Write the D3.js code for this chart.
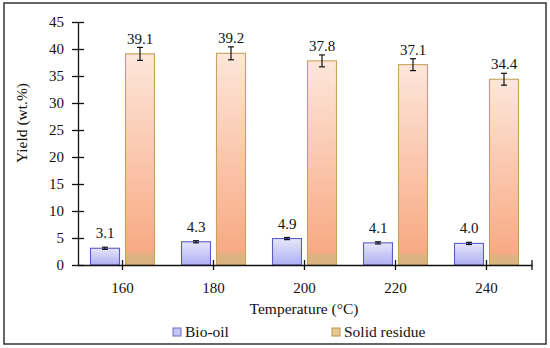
<!DOCTYPE html>
<html>
<head>
<meta charset="utf-8">
<script src="https://cdn.jsdelivr.net/npm/d3@7"></script>
<style>
  body { margin: 0; background: #fff; }
  svg text { font-family: "Liberation Serif", "Times New Roman", serif; fill: #111; }
</style>
</head>
<body>
<div id="chart"></div>
<script>
// chart data
var temperatures = ["160", "180", "200", "220", "240"];
var bioOil = [3.1, 4.3, 4.9, 4.1, 4.0];
var bioOilErr = [0.2, 0.2, 0.2, 0.2, 0.2];
var solidResidue = [39.1, 39.2, 37.8, 37.1, 34.4];
var solidErr = [1.2, 1.2, 1.1, 1.1, 1.1];
var yTicks = [0, 5, 10, 15, 20, 25, 30, 35, 40, 45];
var seriesNames = ["Bio-oil", "Solid residue"];

var width = 550, height = 348;

var svg = d3.select("#chart").append("svg")
    .attr("width", width)
    .attr("height", height);

var defs = svg.append("defs");

var gBio = defs.append("linearGradient")
    .attr("id", "gradBio")
    .attr("x1", 0).attr("y1", 0).attr("x2", 0).attr("y2", 1);
gBio.append("stop").attr("offset", "0%").attr("stop-color", "#e6e6fb");
gBio.append("stop").attr("offset", "100%").attr("stop-color", "#aeb0f2");

var gSolid = defs.append("linearGradient")
    .attr("id", "gradSolid")
    .attr("x1", 0).attr("y1", 0).attr("x2", 0).attr("y2", 1);
gSolid.append("stop").attr("offset", "0%").attr("stop-color", "#fde6da");
gSolid.append("stop").attr("offset", "93%").attr("stop-color", "#f8aa84");
gSolid.append("stop").attr("offset", "96%").attr("stop-color", "#dcb37e");
gSolid.append("stop").attr("offset", "100%").attr("stop-color", "#d9b47e");

// outer frame
svg.append("rect")
    .attr("x", 4).attr("y", 3)
    .attr("width", 542).attr("height", 341)
    .attr("fill", "none")
    .attr("stroke", "#333")
    .attr("stroke-width", 1.5);

var x = d3.scaleBand()
    .domain(temperatures)
    .range([77, 532]);

var y = d3.scaleLinear()
    .domain([0, 45])
    .range([265, 22]);

var barW = 29, gap = 3;

// y axis
var yAxis = svg.append("g")
    .attr("transform", "translate(78,0)")
    .call(d3.axisLeft(y).tickValues(yTicks).tickSize(0).tickPadding(14));
yAxis.select(".domain").attr("stroke", "#111").attr("stroke-width", 1.3);
yAxis.selectAll(".tick text").style("font-size", "15px");
yAxis.selectAll(".tick").append("line")
    .attr("x1", -6).attr("x2", 6)
    .attr("stroke", "#111").attr("stroke-width", 1.3);

// bars
var groups = svg.append("g").selectAll("g")
    .data(temperatures)
    .enter().append("g");

groups.append("rect")
    .attr("x", function (d) { return x(d) + x.bandwidth() / 2 - gap - barW; })
    .attr("y", function (d, i) { return y(bioOil[i]); })
    .attr("width", barW)
    .attr("height", function (d, i) { return y(0) - y(bioOil[i]); })
    .attr("fill", "url(#gradBio)")
    .attr("stroke", "#5b5bc6")
    .attr("stroke-width", 1.1);

groups.append("rect")
    .attr("x", function (d) { return x(d) + x.bandwidth() / 2 + gap; })
    .attr("y", function (d, i) { return y(solidResidue[i]); })
    .attr("width", barW)
    .attr("height", function (d, i) { return y(0) - y(solidResidue[i]); })
    .attr("fill", "url(#gradSolid)")
    .attr("stroke", "#c4a35a")
    .attr("stroke-width", 1.1);

// error bars
function errorBar(sel, cx, val, err) {
    var g = sel.append("g").attr("stroke", "#111").attr("stroke-width", 1.2);
    g.append("line")
        .attr("x1", cx).attr("x2", cx)
        .attr("y1", y(val + err)).attr("y2", y(val - err));
    g.append("line")
        .attr("x1", cx - 3).attr("x2", cx + 3)
        .attr("y1", y(val + err)).attr("y2", y(val + err));
    g.append("line")
        .attr("x1", cx - 3).attr("x2", cx + 3)
        .attr("y1", y(val - err)).attr("y2", y(val - err));
}

groups.each(function (d, i) {
    var g = d3.select(this);
    var c = x(d) + x.bandwidth() / 2;
    var cBio = c - gap - barW / 2, cSolid = c + gap + barW / 2;
    errorBar(g, cBio, bioOil[i], bioOilErr[i]);
    errorBar(g, cSolid, solidResidue[i], solidErr[i]);
    g.append("text")
        .attr("x", cBio).attr("y", y(bioOil[i]) - 10)
        .attr("text-anchor", "middle")
        .style("font-size", "15px")
        .text(bioOil[i].toFixed(1));
    g.append("text")
        .attr("x", cSolid).attr("y", y(solidResidue[i]) - 10)
        .attr("text-anchor", "middle")
        .style("font-size", "15px")
        .text(solidResidue[i].toFixed(1));
});

// x axis
var xAxis = svg.append("g")
    .attr("transform", "translate(0,265)")
    .call(d3.axisBottom(x).tickSize(0).tickPadding(17));
xAxis.select(".domain").attr("stroke", "#111").attr("stroke-width", 1.3);
xAxis.selectAll(".tick text").style("font-size", "15px");
xAxis.selectAll(".tick").append("line")
    .attr("y1", -5).attr("y2", 5)
    .attr("stroke", "#111").attr("stroke-width", 1.3);
xAxis.append("line")
    .attr("x1", 532).attr("x2", 532)
    .attr("y1", -5).attr("y2", 5)
    .attr("stroke", "#111").attr("stroke-width", 1.3);

// axis titles
svg.append("text")
    .attr("x", 304).attr("y", 314)
    .attr("text-anchor", "middle")
    .style("font-size", "15.5px")
    .text("Temperature (°C)");

svg.append("text")
    .attr("transform", "translate(27,123) rotate(-90)")
    .attr("text-anchor", "middle")
    .style("font-size", "15.5px")
    .text("Yield (wt.%)");

// legend
var legendX = [173, 332];
var legendFill = ["#c4c6f2", "#e9c88f"];
var legendStroke = ["#6f6fc4", "#b89352"];
var legend = svg.append("g").selectAll("g")
    .data(seriesNames)
    .enter().append("g")
    .attr("transform", function (d, i) { return "translate(" + legendX[i] + ",328)"; });
legend.append("rect")
    .attr("width", 8).attr("height", 8)
    .attr("fill", function (d, i) { return legendFill[i]; })
    .attr("stroke", function (d, i) { return legendStroke[i]; });
legend.append("text")
    .attr("x", 12).attr("y", 9)
    .style("font-size", "15.5px")
    .text(function (d) { return d; });
</script>
</body>
</html>
